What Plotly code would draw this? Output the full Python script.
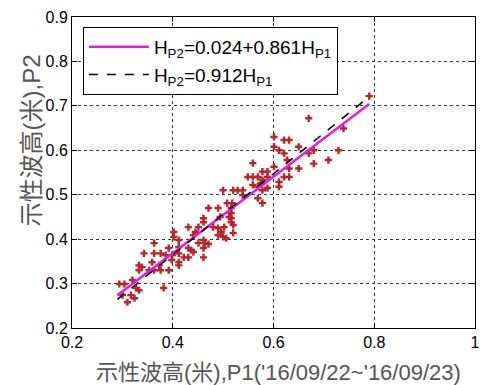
import plotly.graph_objects as go

# Scatter data: significant wave height P1 (x) vs P2 (y), metres
p1 = [0.294, 0.304, 0.320, 0.327, 0.333, 0.317, 0.300, 0.324, 0.310, 0.382,
      0.333, 0.333, 0.339, 0.353, 0.363, 0.373, 0.376, 0.392, 0.359, 0.398,
      0.412, 0.412, 0.343, 0.363, 0.376, 0.386, 0.399, 0.412, 0.422, 0.431,
      0.461, 0.363, 0.392, 0.412, 0.431, 0.437, 0.451, 0.464, 0.461, 0.402,
      0.402, 0.412, 0.431, 0.451, 0.441, 0.480, 0.490, 0.490, 0.502, 0.496,
      0.500, 0.506, 0.520, 0.518, 0.516, 0.516, 0.516, 0.516, 0.490, 0.471,
      0.461, 0.500, 0.520, 0.529, 0.539, 0.539, 0.508, 0.569, 0.578, 0.549,
      0.559, 0.569, 0.578, 0.588, 0.588, 0.559, 0.559, 0.575, 0.588, 0.578,
      0.601, 0.601, 0.611, 0.621, 0.601, 0.621, 0.611, 0.611, 0.621, 0.631,
      0.631, 0.627, 0.631, 0.650, 0.650, 0.670, 0.670, 0.680, 0.680, 0.709,
      0.729, 0.739, 0.790, 0.461, 0.445, 0.461, 0.471, 0.512, 0.520, 0.441,
      0.494, 0.578, 0.569]
p2 = [0.299, 0.299, 0.308, 0.290, 0.285, 0.274, 0.274, 0.267, 0.258, 0.290,
      0.341, 0.330, 0.337, 0.330, 0.330, 0.341, 0.330, 0.330, 0.348, 0.353,
      0.348, 0.341, 0.368, 0.368, 0.368, 0.364, 0.364, 0.368, 0.359, 0.359,
      0.359, 0.391, 0.380, 0.382, 0.380, 0.375, 0.391, 0.391, 0.380, 0.416,
      0.405, 0.398, 0.427, 0.427, 0.409, 0.427, 0.425, 0.409, 0.427, 0.416,
      0.405, 0.402, 0.414, 0.481, 0.470, 0.459, 0.447, 0.438, 0.470, 0.470,
      0.447, 0.510, 0.510, 0.510, 0.510, 0.499, 0.481, 0.492, 0.481, 0.540,
      0.540, 0.540, 0.552, 0.552, 0.540, 0.571, 0.522, 0.526, 0.515, 0.510,
      0.630, 0.608, 0.600, 0.593, 0.563, 0.540, 0.529, 0.518, 0.623, 0.623,
      0.540, 0.578, 0.559, 0.608, 0.559, 0.672, 0.593, 0.600, 0.570, 0.578,
      0.600, 0.649, 0.722, 0.438, 0.416, 0.398, 0.389, 0.450, 0.432, 0.371,
      0.450, 0.533, 0.518]

# Regression lines (from legend equations)
fit_intercept = 0.024
fit_slope = 0.861
prop_slope = 0.912
line_x = [0.29, 0.79]

x_ticks = [0.2, 0.4, 0.6, 0.8, 1.0]
x_tick_labels = ["0.2", "0.4", "0.6", "0.8", "1"]
y_ticks = [0.2, 0.3, 0.4, 0.5, 0.6, 0.7, 0.8, 0.9]
y_tick_labels = ["0.2", "0.3", "0.4", "0.5", "0.6", "0.7", "0.8", "0.9"]

fit_y = [fit_intercept + fit_slope * v for v in line_x]
prop_y = [prop_slope * v for v in line_x]

FONT = "Liberation Sans, Arial, Noto Sans CJK TC, sans-serif"

fig = go.Figure()
fig.add_trace(go.Scatter(
    x=p1, y=p2, mode="markers", showlegend=False,
    marker=dict(symbol="cross", size=6, color="#b8262b", line=dict(width=0)),
))
fig.add_trace(go.Scatter(
    x=line_x, y=fit_y, mode="lines",
    name="H<sub>P2</sub>=0.024+0.861H<sub>P1</sub>",
    line=dict(color="#e31ce3", width=2.5),
))
fig.add_trace(go.Scatter(
    x=line_x, y=prop_y, mode="lines",
    name="H<sub>P2</sub>=0.912H<sub>P1</sub>",
    line=dict(color="black", width=1.5, dash="dash"),
))

axis_common = dict(
    showline=True, linecolor="black", linewidth=1, mirror="ticks",
    ticks="inside", ticklen=5, tickcolor="black",
    showgrid=True, gridcolor="#333333", griddash="dot", gridwidth=1,
    zeroline=False,
    tickfont=dict(family=FONT, size=16, color="black"),
    ticklabeloverflow="allow",
)

fig.update_layout(
    width=483, height=385,
    margin=dict(l=72, r=3, t=17, b=57),
    plot_bgcolor="white", paper_bgcolor="white",
    xaxis=dict(range=[0.2, 1.0], tickvals=x_ticks, ticktext=x_tick_labels, **axis_common),
    yaxis=dict(range=[0.2, 0.9], tickvals=y_ticks, ticktext=y_tick_labels, **axis_common),
    legend=dict(
        x=0.027, y=0.968, xanchor="left", yanchor="top",
        bgcolor="white", bordercolor="black", borderwidth=1,
        font=dict(family=FONT, size=19, color="black"),
        itemwidth=60,
    ),
    annotations=[
        dict(text="示性波高(米),P1('16/09/22~'16/09/23)", xref="paper", yref="paper",
             x=(281 - 72) / 408, y=-(372 - 328) / 311, xanchor="center", yanchor="middle",
             showarrow=False, font=dict(family=FONT, size=22, color="#555555")),
        dict(text="示性波高(米),P2", xref="paper", yref="paper",
             x=-(72 - 30) / 408, y=1 - (141 - 17) / 311, xanchor="center", yanchor="middle",
             textangle=-90, showarrow=False, font=dict(family=FONT, size=24, color="#555555")),
    ],
)

fig.write_html("out.html")
